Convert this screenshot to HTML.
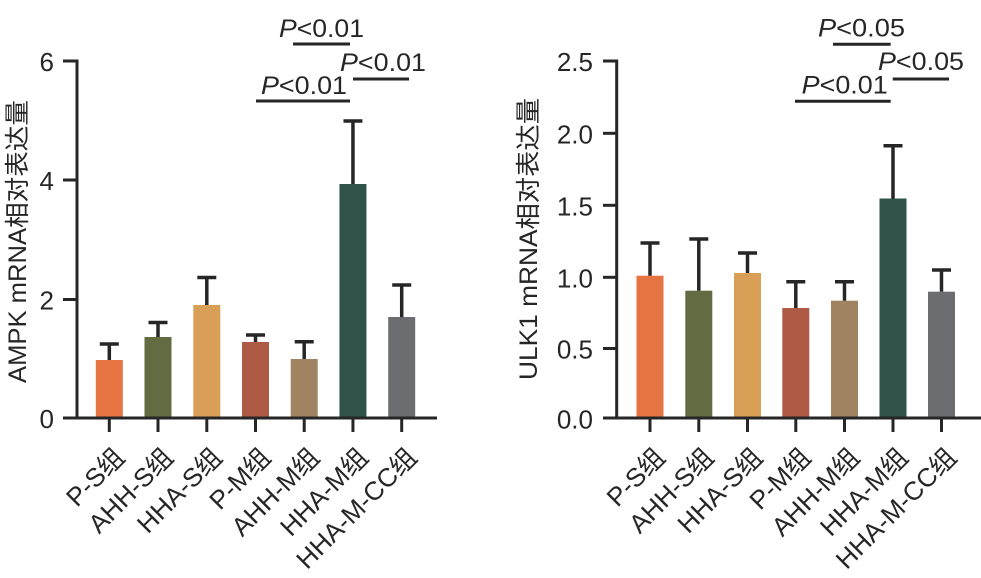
<!DOCTYPE html>
<html>
<head>
<meta charset="utf-8">
<style>
html,body{margin:0;padding:0;background:#fff;}
svg{display:block;}
text{font-family:"Liberation Sans","Noto Sans CJK SC",sans-serif;fill:#262626;}
</style>
</head>
<body>
<svg width="981" height="578" viewBox="0 0 981 578" xmlns="http://www.w3.org/2000/svg">
<rect width="981" height="578" fill="#fff"/>

<!-- ============ LEFT CHART ============ -->
<g>
  <rect x="95.8" y="360" width="27" height="58" fill="#E67442"/>
  <rect x="144.5" y="337" width="27" height="81" fill="#636B42"/>
  <rect x="193.3" y="305" width="27" height="113" fill="#DA9F57"/>
  <rect x="242" y="342" width="27" height="76" fill="#AE5A45"/>
  <rect x="290.7" y="359" width="27" height="59" fill="#A08360"/>
  <rect x="339.45" y="184" width="27" height="234" fill="#2F5349"/>
  <rect x="388.2" y="317" width="27" height="101" fill="#6C6D71"/>

  <g stroke="#262626" stroke-width="3.5" fill="none">
    <line x1="109.3" y1="360" x2="109.3" y2="344"/><line x1="99.8" y1="344" x2="118.8" y2="344"/>
    <line x1="158" y1="337" x2="158" y2="322.5"/><line x1="148.5" y1="322.5" x2="167.5" y2="322.5"/>
    <line x1="206.8" y1="305" x2="206.8" y2="277.5"/><line x1="197.3" y1="277.5" x2="216.3" y2="277.5"/>
    <line x1="255.5" y1="342" x2="255.5" y2="335"/><line x1="246" y1="335" x2="265" y2="335"/>
    <line x1="304.2" y1="359" x2="304.2" y2="341.7"/><line x1="294.7" y1="341.7" x2="313.7" y2="341.7"/>
    <line x1="352.95" y1="184" x2="352.95" y2="121"/><line x1="343.45" y1="121" x2="362.45" y2="121"/>
    <line x1="401.7" y1="317" x2="401.7" y2="285"/><line x1="392.2" y1="285" x2="411.2" y2="285"/>
  </g>

  <g stroke="#262626" stroke-width="3" fill="none">
    <line x1="77" y1="59.5" x2="77" y2="419.5"/>
    <line x1="63" y1="418" x2="437" y2="418"/>
    <line x1="63" y1="61" x2="77" y2="61"/>
    <line x1="63" y1="180" x2="77" y2="180"/>
    <line x1="63" y1="299.5" x2="77" y2="299.5"/>
    <line x1="109.3" y1="418" x2="109.3" y2="432"/>
    <line x1="158" y1="418" x2="158" y2="432"/>
    <line x1="206.8" y1="418" x2="206.8" y2="432"/>
    <line x1="255.5" y1="418" x2="255.5" y2="432"/>
    <line x1="304.2" y1="418" x2="304.2" y2="432"/>
    <line x1="352.95" y1="418" x2="352.95" y2="432"/>
    <line x1="401.7" y1="418" x2="401.7" y2="432"/>
  </g>
  <g font-size="26" text-anchor="end">
    <text x="54" y="71">6</text>
    <text x="54" y="190">4</text>
    <text x="54" y="309.5">2</text>
    <text x="54" y="428">0</text>
  </g>
  <text transform="translate(26,241.5) rotate(-90)" font-size="25" text-anchor="middle" textLength="283" lengthAdjust="spacingAndGlyphs">AMPK mRNA相对表达量</text>

  <g font-size="26" text-anchor="end">
    <text transform="translate(126,459) rotate(-45)">P-S组</text>
    <text transform="translate(174.7,459) rotate(-45)">AHH-S组</text>
    <text transform="translate(223.5,459) rotate(-45)">HHA-S组</text>
    <text transform="translate(272.2,459) rotate(-45)">P-M组</text>
    <text transform="translate(320.9,459) rotate(-45)">AHH-M组</text>
    <text transform="translate(369.6,459) rotate(-45)">HHA-M组</text>
    <text transform="translate(418.4,459) rotate(-45)">HHA-M-CC组</text>
  </g>

  <g stroke="#262626" stroke-width="3">
    <line x1="293" y1="44" x2="350" y2="44"/>
    <line x1="353" y1="79" x2="409" y2="79"/>
    <line x1="256" y1="101" x2="350" y2="101"/>
  </g>
  <g font-size="25">
    <text x="279" y="37" textLength="85" lengthAdjust="spacingAndGlyphs"><tspan font-style="italic">P</tspan>&lt;0.01</text>
    <text x="340" y="71" textLength="86" lengthAdjust="spacingAndGlyphs"><tspan font-style="italic">P</tspan>&lt;0.01</text>
    <text x="261" y="94" textLength="86" lengthAdjust="spacingAndGlyphs"><tspan font-style="italic">P</tspan>&lt;0.01</text>
  </g>
</g>

<!-- ============ RIGHT CHART ============ -->
<g>
  <rect x="636.5" y="275.7" width="27" height="142.3" fill="#E67442"/>
  <rect x="685.3" y="290.7" width="27" height="127.3" fill="#636B42"/>
  <rect x="734" y="273" width="27" height="145" fill="#DA9F57"/>
  <rect x="782.3" y="308" width="27" height="110" fill="#AE5A45"/>
  <rect x="831" y="300.7" width="27" height="117.3" fill="#A08360"/>
  <rect x="879.5" y="198.5" width="27" height="219.5" fill="#2F5349"/>
  <rect x="928" y="291.7" width="27" height="126.3" fill="#6C6D71"/>

  <g stroke="#262626" stroke-width="3.5" fill="none">
    <line x1="650" y1="275.7" x2="650" y2="243"/><line x1="640.5" y1="243" x2="659.5" y2="243"/>
    <line x1="698.8" y1="290.7" x2="698.8" y2="239"/><line x1="689.3" y1="239" x2="708.3" y2="239"/>
    <line x1="747.5" y1="273" x2="747.5" y2="253"/><line x1="738" y1="253" x2="757" y2="253"/>
    <line x1="795.8" y1="308" x2="795.8" y2="281.7"/><line x1="786.3" y1="281.7" x2="805.3" y2="281.7"/>
    <line x1="844.5" y1="300.7" x2="844.5" y2="281.7"/><line x1="835" y1="281.7" x2="854" y2="281.7"/>
    <line x1="893" y1="198.5" x2="893" y2="145.7"/><line x1="883.5" y1="145.7" x2="902.5" y2="145.7"/>
    <line x1="941.5" y1="291.7" x2="941.5" y2="270"/><line x1="932" y1="270" x2="951" y2="270"/>
  </g>

  <g stroke="#262626" stroke-width="3" fill="none">
    <line x1="616.7" y1="59.5" x2="616.7" y2="419.5"/>
    <line x1="603" y1="418" x2="981" y2="418"/>
    <line x1="603" y1="61" x2="616.7" y2="61"/>
    <line x1="603" y1="133.3" x2="616.7" y2="133.3"/>
    <line x1="603" y1="205.3" x2="616.7" y2="205.3"/>
    <line x1="603" y1="277.3" x2="616.7" y2="277.3"/>
    <line x1="603" y1="348.5" x2="616.7" y2="348.5"/>
    <line x1="650" y1="418" x2="650" y2="432"/>
    <line x1="698.8" y1="418" x2="698.8" y2="432"/>
    <line x1="747.5" y1="418" x2="747.5" y2="432"/>
    <line x1="795.8" y1="418" x2="795.8" y2="432"/>
    <line x1="844.5" y1="418" x2="844.5" y2="432"/>
    <line x1="893" y1="418" x2="893" y2="432"/>
    <line x1="941.5" y1="418" x2="941.5" y2="432"/>
  </g>
  <g font-size="26" text-anchor="end">
    <text x="593" y="71">2.5</text>
    <text x="593" y="143.3">2.0</text>
    <text x="593" y="215.3">1.5</text>
    <text x="593" y="287.3">1.0</text>
    <text x="593" y="358.5">0.5</text>
    <text x="593" y="428.5">0.0</text>
  </g>
  <text transform="translate(537,239) rotate(-90)" font-size="25" text-anchor="middle" textLength="282" lengthAdjust="spacingAndGlyphs">ULK1 mRNA相对表达量</text>

  <g font-size="26" text-anchor="end">
    <text transform="translate(666.5,459) rotate(-45)">P-S组</text>
    <text transform="translate(715.3,459) rotate(-45)">AHH-S组</text>
    <text transform="translate(764,459) rotate(-45)">HHA-S组</text>
    <text transform="translate(812.3,459) rotate(-45)">P-M组</text>
    <text transform="translate(861,459) rotate(-45)">AHH-M组</text>
    <text transform="translate(909.5,459) rotate(-45)">HHA-M组</text>
    <text transform="translate(958,459) rotate(-45)">HHA-M-CC组</text>
  </g>

  <g stroke="#262626" stroke-width="3">
    <line x1="833" y1="44.3" x2="890.7" y2="44.3"/>
    <line x1="892.7" y1="79" x2="949" y2="79"/>
    <line x1="795" y1="101.3" x2="890.7" y2="101.3"/>
  </g>
  <g font-size="25">
    <text x="818" y="36.7" textLength="87" lengthAdjust="spacingAndGlyphs"><tspan font-style="italic">P</tspan>&lt;0.05</text>
    <text x="878" y="70" textLength="86" lengthAdjust="spacingAndGlyphs"><tspan font-style="italic">P</tspan>&lt;0.05</text>
    <text x="801.7" y="93.3" textLength="86" lengthAdjust="spacingAndGlyphs"><tspan font-style="italic">P</tspan>&lt;0.01</text>
  </g>
</g>
</svg>
</body>
</html>
